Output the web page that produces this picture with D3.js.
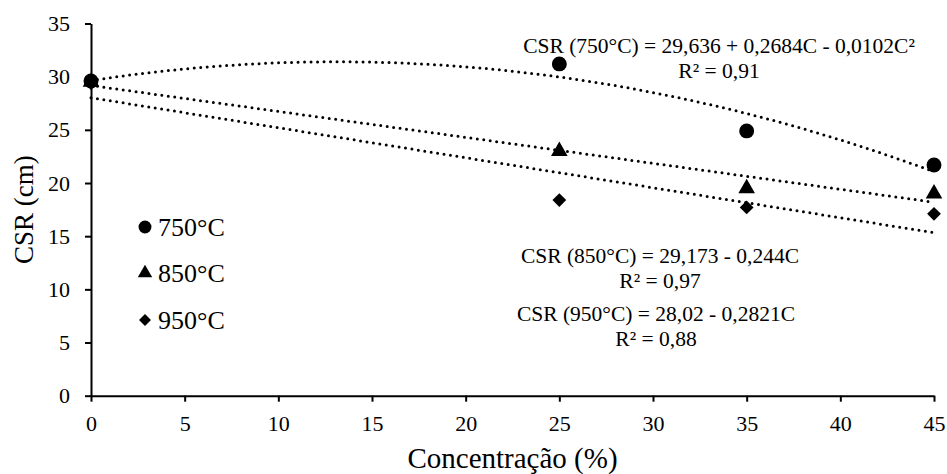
<!DOCTYPE html>
<html>
<head>
<meta charset="utf-8">
<script src="https://cdn.jsdelivr.net/npm/d3@7"></script>
<style>
  body { margin: 0; background: #fff; }
  svg text { font-family: 'Liberation Serif', 'Times New Roman', Times, serif; fill: #000; }
</style>
</head>
<body>
<div id="graph"></div>
<script>
// data
var concentration = [0, 25, 35, 45];
var csr750 = [29.6, 31.2, 24.9, 21.7];
var csr850 = [29.5, 23.0, 19.5, 19.0];
var csr950 = [29.4, 18.4, 17.7, 17.1];

// trend line coefficients (c0 + c1*C + c2*C^2), as printed on the chart
var trend750 = [29.636, 0.2684, -0.0102];
var trend850 = [29.173, -0.244];
var trend950 = [28.02, -0.2821];

var seriesNames = ["750°C", "850°C", "950°C"];
var equations = [
    ["CSR (750°C) = 29,636 + 0,2684C - 0,0102C²", "R² = 0,91"],
    ["CSR (850°C) = 29,173 - 0,244C", "R² = 0,97"],
    ["CSR (950°C) = 28,02 - 0,2821C", "R² = 0,88"]
];

var xTicks = [0, 5, 10, 15, 20, 25, 30, 35, 40, 45];
var yTicks = [0, 5, 10, 15, 20, 25, 30, 35];

var width = 947;
var height = 474;
var margin = { top: 23.5, right: 13, bottom: 78.3, left: 91 };
var serif = "'Liberation Serif', 'Times New Roman', Times, serif";

var svg = d3.select('#graph')
    .append('svg')
    .attr('width', width)
    .attr('height', height)
    .style('font-family', serif);

var x = d3.scaleLinear()
    .domain([0, 45])
    .range([margin.left, width - margin.right]);

var y = d3.scaleLinear()
    .domain([0, 35])
    .range([height - margin.bottom, margin.top]);

// axes
var xAxis = svg.append("g")
    .attr("transform", "translate(0," + y(0) + ")")
    .call(d3.axisBottom(x).tickValues(xTicks).tickSize(6).tickSizeOuter(0).tickPadding(14));

var yAxis = svg.append("g")
    .attr("transform", "translate(" + x(0) + ",0)")
    .call(d3.axisLeft(y).tickValues(yTicks).tickSize(6).tickSizeOuter(0).tickPadding(15));

[xAxis, yAxis].forEach(function(ax) {
    ax.attr("font-family", null).attr("font-size", null);
    ax.select(".domain").attr("stroke", "#000").attr("stroke-width", 2);
    ax.selectAll(".tick line").attr("stroke", "#000").attr("stroke-width", 2);
    ax.selectAll(".tick text")
        .style("font-family", serif)
        .style("font-size", "22px");
});

// axis titles
svg.append("text")
    .attr("x", (x(0) + x(45)) / 2)
    .attr("y", 468)
    .attr("text-anchor", "middle")
    .style("font-family", serif)
    .style("font-size", "29px")
    .text("Concentração (%)");

svg.append("text")
    .attr("transform", "translate(33," + ((y(0) + y(35)) / 2) + ") rotate(-90)")
    .attr("text-anchor", "middle")
    .style("font-family", serif)
    .style("font-size", "27px")
    .text("CSR (cm)");

// trend lines (dotted)
var trends = [trend750, trend850, trend950];
var cSteps = d3.range(0, 45.01, 0.5);

function evalTrend(coefs, c) {
    return coefs.reduce(function(acc, k, i) { return acc + k * Math.pow(c, i); }, 0);
}

var line = d3.line()
    .x(function(d) { return x(d[0]); })
    .y(function(d) { return y(d[1]); });

svg.append("g").selectAll("path.trend")
    .data(trends)
    .enter()
    .append("path")
    .attr("class", "trend")
    .attr("d", function(coefs) {
        return line(cSteps.map(function(c) { return [c, evalTrend(coefs, c)]; }));
    })
    .attr("fill", "none")
    .attr("stroke", "#000")
    .attr("stroke-width", 3)
    .attr("stroke-linecap", "round")
    .attr("stroke-dasharray", "0,6.5");

// markers
var symbols = [
    { type: d3.symbolCircle, size: 175, rot: 0 },
    { type: d3.symbolTriangle, size: 120, rot: 0 },
    { type: d3.symbolSquare, size: 95, rot: 45 }
];
var allSeries = [csr750, csr850, csr950];

allSeries.forEach(function(vals, si) {
    var sym = d3.symbol().type(symbols[si].type).size(symbols[si].size);
    svg.append("g").selectAll("path")
        .data(vals)
        .enter()
        .append("path")
        .attr("d", sym)
        .attr("transform", function(d, i) {
            return "translate(" + x(concentration[i]) + "," + y(d) + ") rotate(" + symbols[si].rot + ")";
        })
        .attr("fill", "#000");
});

// legend
var legendY = [227, 273, 320];
var legend = svg.append("g");
seriesNames.forEach(function(name, i) {
    var sym = d3.symbol().type(symbols[i].type).size(symbols[i].size * 0.75);
    legend.append("path")
        .attr("d", sym)
        .attr("transform", "translate(145," + legendY[i] + ") rotate(" + symbols[i].rot + ")")
        .attr("fill", "#000");
    legend.append("text")
        .attr("x", 158)
        .attr("y", legendY[i] + 8.5)
        .style("font-family", serif)
        .style("font-size", "26px")
        .text(name);
});

// equation labels
var eqPos = [[719, 53], [660, 263], [656, 321]];
equations.forEach(function(lines, i) {
    lines.forEach(function(t, j) {
        svg.append("text")
            .attr("x", eqPos[i][0])
            .attr("y", eqPos[i][1] + j * 24.5)
            .attr("text-anchor", "middle")
            .style("font-family", serif)
            .style("font-size", "21.5px")
            .text(t);
    });
});
</script>
</body>
</html>
